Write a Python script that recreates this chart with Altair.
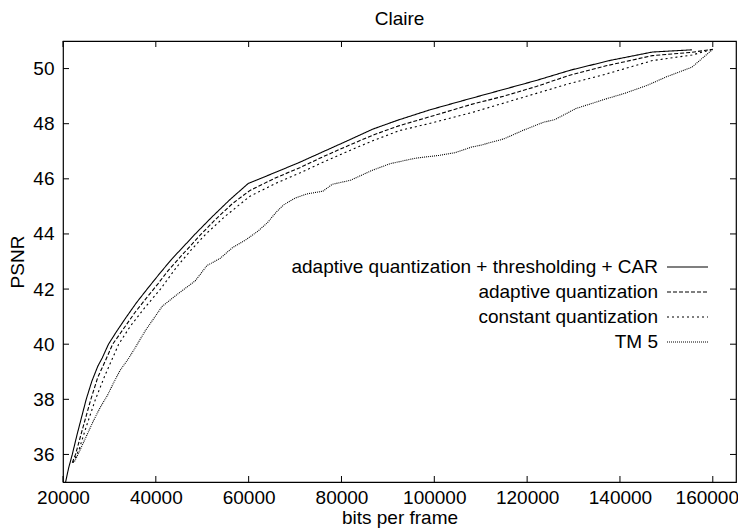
import altair as alt
import pandas as pd

# ---- data ----
car_x = [20560, 21200, 22000, 23000, 24000, 25000, 26200, 27500, 28450, 29800, 31500, 33500,
         35800, 38130, 41000, 43500, 46000, 48500, 52000, 56000, 59900, 66000, 71000, 76000,
         81800, 86700, 92000, 99000, 106000, 114000, 122000, 129500, 138000, 147000, 155500]
car_y = [35.0, 35.5, 36.0, 36.7, 37.35, 38.0, 38.65, 39.2, 39.5, 40.0, 40.45, 40.95,
         41.5, 42.0, 42.6, 43.1, 43.55, 44.0, 44.6, 45.25, 45.83, 46.25, 46.6, 46.98,
         47.42, 47.8, 48.12, 48.5, 48.83, 49.2, 49.57, 49.95, 50.3, 50.6, 50.68]

aq_x = [22000, 22700, 24000, 25000, 26000, 27500, 29000, 30700, 33000, 35500, 38000, 40500,
        42700, 46000, 49800, 53000, 56500, 60300, 66000, 71000, 76000, 81800, 87000, 92500,
        100000, 108000, 115000, 122000, 129000, 137000, 147000, 155500, 160000]
aq_y = [35.7, 36.0, 36.8, 37.4, 38.0, 38.8, 39.35, 40.0, 40.55, 41.15, 41.68, 42.2,
        42.68, 43.3, 44.0, 44.55, 45.1, 45.58, 46.05, 46.4, 46.8, 47.23, 47.6, 47.93,
        48.3, 48.7, 49.0, 49.35, 49.75, 50.1, 50.47, 50.59, 50.7]

cq_x = [22200, 23500, 25000, 27000, 29000, 32000, 34500, 37500, 41000, 44500, 47500, 50800,
        55000, 60300, 66000, 71000, 76000, 81800, 87000, 92500, 100000, 108000, 115000,
        122000, 129000, 137000, 147000, 155500, 160000]
cq_y = [35.7, 36.2, 37.0, 38.0, 38.85, 40.0, 40.65, 41.3, 42.0, 42.8, 43.4, 44.0,
        44.65, 45.37, 45.85, 46.21, 46.6, 47.03, 47.4, 47.75, 48.05, 48.4, 48.75,
        49.1, 49.45, 49.8, 50.29, 50.49, 50.7]

tm5_x = [22500, 23500, 25000, 26500, 28000, 29600, 30900, 32300, 34000, 35300, 37770, 41360,
         44940, 48500, 51000, 53900, 56500, 59500, 62000, 64000, 66000, 67500, 70000, 72500,
         76000, 78000, 82000, 86500, 90500, 96000, 101000, 104500, 108000, 110000, 115000,
         119000, 123500, 126000, 130500, 133500, 137000, 141000, 146000, 150000, 155500, 160000]
tm5_y = [35.75, 36.1, 36.65, 37.2, 37.7, 38.15, 38.6, 39.05, 39.45, 39.8, 40.5, 41.37,
         41.85, 42.3, 42.85, 43.12, 43.5, 43.8, 44.1, 44.4, 44.8, 45.05, 45.3, 45.45,
         45.55, 45.8, 45.95, 46.3, 46.55, 46.75, 46.85, 46.95, 47.15, 47.22, 47.45,
         47.75, 48.05, 48.15, 48.55, 48.71, 48.9, 49.1, 49.4, 49.7, 50.05, 50.7]

series_names = ["adaptive quantization + thresholding + CAR", "adaptive quantization",
                "constant quantization", "TM 5"]
series_x = [car_x, aq_x, cq_x, tm5_x]
series_y = [car_y, aq_y, cq_y, tm5_y]
dash_styles = [[1, 0], [4, 2], [2, 3], [1, 1]]

x_ticks = [20000, 40000, 60000, 80000, 100000, 120000, 140000, 160000]
y_ticks = [36, 38, 40, 42, 44, 46, 48, 50]

W, H = 673, 441
FONT = "Liberation Sans"
FS = 19

rows = []
for name, xs, ys in zip(series_names, series_x, series_y):
    for xv, yv in zip(xs, ys):
        rows.append({"series": name, "bits": xv, "psnr": yv})
df = pd.DataFrame(rows)

xscale = alt.Scale(domain=[20000, 165000], nice=False, zero=False)
yscale = alt.Scale(domain=[35, 51], nice=False, zero=False)
dash_scale = alt.Scale(domain=series_names, range=dash_styles)

lines = alt.Chart(df).mark_line(color="black", strokeWidth=1.1, clip=True).encode(
    x=alt.X("bits:Q", scale=xscale,
            axis=alt.Axis(title="bits per frame", values=x_ticks, format="d",
                          grid=False, ticks=False, tickSize=0, domain=False,
                          labelFlush=False, labelOverlap=False,
                          labelOffset={"condition": {"test": "datum.value == 160000", "value": -6},
                                       "value": 0},
                          labelFont=FONT, labelFontSize=FS, labelColor="black",
                          labelPadding=6, titleFont=FONT, titleFontSize=FS,
                          titleFontWeight="normal", titleColor="black", titlePadding=1)),
    y=alt.Y("psnr:Q", scale=yscale,
            axis=alt.Axis(title="PSNR", values=y_ticks, grid=False, ticks=False,
                          tickSize=0, domain=False, labelFlush=False, labelOverlap=False,
                          labelFont=FONT, labelFontSize=FS,
                          labelColor="black", labelPadding=9, titleFont=FONT,
                          titleFontSize=FS, titleFontWeight="normal", titleColor="black",
                          titlePadding=5)),
    strokeDash=alt.StrokeDash("series:N", scale=dash_scale, legend=None),
    detail="series:N",
)

xt = pd.DataFrame({"v": x_ticks})
yt = pd.DataFrame({"v": y_ticks})
tick_bottom = alt.Chart(xt).mark_rule(color="black", strokeWidth=1).encode(
    x=alt.X("v:Q", scale=xscale), y=alt.value(H), y2=alt.value(H - 6))
tick_top = alt.Chart(xt).mark_rule(color="black", strokeWidth=1).encode(
    x=alt.X("v:Q", scale=xscale), y=alt.value(0), y2=alt.value(6))
tick_left = alt.Chart(yt).mark_rule(color="black", strokeWidth=1).encode(
    y=alt.Y("v:Q", scale=yscale), x=alt.value(0), x2=alt.value(6))
tick_right = alt.Chart(yt).mark_rule(color="black", strokeWidth=1).encode(
    y=alt.Y("v:Q", scale=yscale), x=alt.value(W), x2=alt.value(W - 6))

legend_layers = []
for i, (name, dash) in enumerate(zip(series_names, dash_styles)):
    ld = pd.DataFrame({"label": [name]})
    ypos = 226 + 25 * i
    legend_layers.append(
        alt.Chart(ld).mark_text(align="right", baseline="middle", font=FONT,
                                fontSize=FS, color="black").encode(
            text="label:N", x=alt.value(595), y=alt.value(ypos)))
    legend_layers.append(
        alt.Chart(ld).mark_rule(color="black", strokeWidth=1.1, strokeDash=dash).encode(
            x=alt.value(604), x2=alt.value(645), y=alt.value(ypos)))

chart = alt.layer(lines, tick_bottom, tick_top, tick_left, tick_right, *legend_layers).properties(
    width=W, height=H,
    title=alt.TitleParams("Claire", font=FONT, fontSize=FS, fontWeight="normal",
                          color="black", anchor="middle", offset=12),
    autosize=alt.AutoSizeParams(type="none"),
    padding={"left": 55, "top": 33, "right": 2, "bottom": 46},
).configure_view(stroke="black", strokeWidth=1.2)

chart.save("out.html", embed_options={"renderer": "svg", "actions": False})
